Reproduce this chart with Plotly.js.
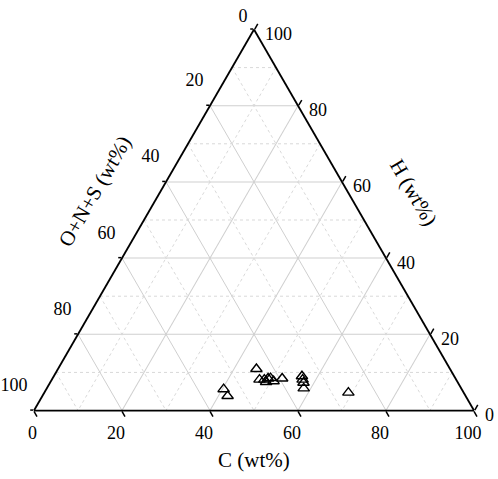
<!DOCTYPE html>
<html>
<head>
<meta charset="utf-8">
<script src="https://cdn.plot.ly/plotly-3.0.1.min.js"></script>
<style>html,body{margin:0;padding:0;background:#fff;}#chart{width:498px;height:479px;}</style>
</head>
<body>
<div id="chart"></div>
<script>
// Composition of samples (wt%)
var hydrogen = [10.9, 8.1, 8.1, 8.4, 8.5, 7.7, 7.5, 8.4, 9.0, 8.1, 7.3, 5.8, 4.7, 5.6, 3.8];
var carbon   = [45.1, 47.2, 48.3, 49.0, 49.5, 50.6, 49.0, 52.2, 56.4, 57.0, 57.6, 58.4, 69.1, 40.3, 42.1];
var oxygenNS = [44.0, 44.7, 43.6, 42.6, 42.0, 41.7, 43.5, 39.4, 34.6, 34.9, 35.1, 35.8, 26.2, 54.1, 54.1];

var majorTicks = [0, 20, 40, 60, 80, 100];
var majorTickText = ["100", "80", "60", "40", "20", "0"];
var minorTicks = [10, 30, 50, 70, 90];

var NB = '\u00a0';
// label text decorations used to nudge Plotly's tick labels toward Origin-style placement
var aText = majorTickText.map(function (t) { return t + (t === '0' ? '<br>' + NB : '<br>' + NB + '<br>' + NB); });
var bText = majorTickText.map(function (t) { return t + (t === '0' ? NB + NB : NB + NB + NB + NB); });
var cText = majorTickText.map(function (t) { return NB + '<br>' + NB + t; });

// minor grid (dotted) lines built from minor tick values
var ga = [], gb = [], gc = [];
minorTicks.forEach(function (v) {
  var w = 100 - v;
  ga.push(v, v, null); gb.push(w, 0, null); gc.push(0, w, null);
  ga.push(w, 0, null); gb.push(v, v, null); gc.push(0, w, null);
  ga.push(w, 0, null); gb.push(0, w, null); gc.push(v, v, null);
});

var font = "Liberation Serif, Times New Roman, serif";

var traces = [
  {
    type: 'scatterternary', mode: 'lines',
    a: ga, b: gb, c: gc,
    line: {color: '#d9d9d9', width: 1, dash: 'dot'},
    hoverinfo: 'skip', showlegend: false
  },
  {
    type: 'scatterternary', mode: 'markers',
    a: hydrogen, b: oxygenNS, c: carbon,
    marker: {symbol: 'triangle-up-open', size: 10, color: '#000', line: {width: 1.4, color: '#000'}},
    showlegend: false
  }
];

function axis(txt, tlen) {
  return {
    title: {text: ''},
    tickmode: 'array', tickvals: majorTicks, ticktext: txt,
    tickfont: {family: font, size: 18, color: '#000'},
    ticks: 'outside', ticklen: tlen, tickwidth: 1.5, tickcolor: '#000',
    showline: true, linecolor: '#000', linewidth: 1.8,
    showgrid: true, gridcolor: '#cfcfcf', gridwidth: 1,
    min: 0
  };
}

var layout = {
  width: 498, height: 479,
  margin: {l: 34, r: 24, t: 29, b: 68},
  paper_bgcolor: '#fff',
  showlegend: false,
  font: {family: font, color: '#000'},
  ternary: {
    sum: 100,
    bgcolor: '#fff',
    aaxis: axis(aText, 3),
    baxis: axis(bText, 6),
    caxis: axis(cText, 6)
  },
  annotations: [
    {text: 'C (wt%)', xref: 'paper', yref: 'paper', x: 0.5, y: -0.128, showarrow: false,
     font: {family: font, size: 21, color: '#000'}, xanchor: 'center', yanchor: 'middle'},
    {text: 'O+N+S (wt%)', xref: 'paper', yref: 'paper', x: 0.1386, y: 0.576, showarrow: false,
     textangle: -60, font: {family: font, size: 21, color: '#000'}, xanchor: 'center', yanchor: 'middle'},
    {text: 'H (wt%)', xref: 'paper', yref: 'paper', x: 0.8636, y: 0.571, showarrow: false,
     textangle: 60, font: {family: font, size: 21, color: '#000'}, xanchor: 'center', yanchor: 'middle'}
  ]
};

Plotly.newPlot('chart', traces, layout, {displayModeBar: false, staticPlot: true});
</script>
</body>
</html>
